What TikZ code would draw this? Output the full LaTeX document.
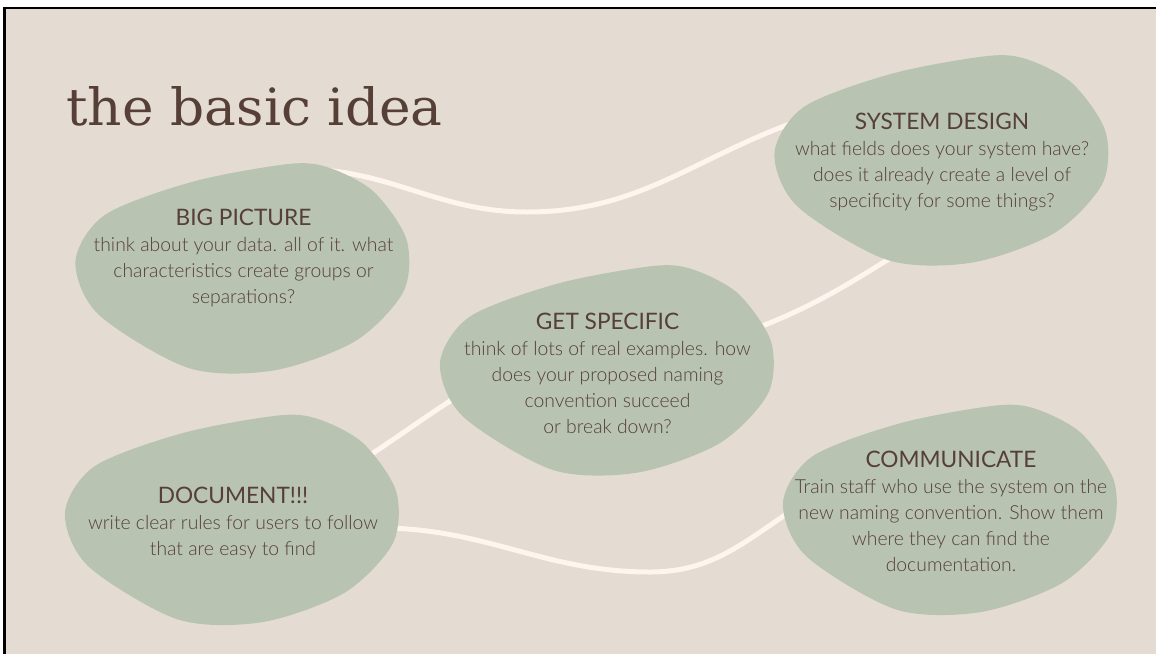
\documentclass[tikz,border=0pt]{standalone}
\usepackage{fontspec}
\setmainfont{Lato}
\newfontfamily\bodyfont{Lato Light}
\newfontfamily\titlefont[FakeStretch=1.04]{DejaVu Serif}
\definecolor{paper}{HTML}{E4DCD2}
\definecolor{sage}{HTML}{B8C3B1}
\definecolor{bark}{HTML}{553F37}
\definecolor{cream}{HTML}{FDF5EE}
\newcommand{\blobhead}[1]{{\rmfamily\fontsize{17}{19.5}\selectfont #1}}

\begin{document}
\begin{tikzpicture}[x=0.75pt,y=-0.75pt,
  blob/.style={fill=sage},
  link/.style={draw=cream,line width=3.75pt},
  note/.style={text=bark,align=center,inner sep=0pt,anchor=north,font=\bodyfont\fontsize{14.5}{19.5}\selectfont}]
\useasboundingbox (0,0) rectangle (1156,654);

% slide
\fill[white] (0,0) rectangle (1156,654);
\fill[paper] (4.5,8) rectangle (1156,654);
\draw[black,line width=1.9pt] (4.5,654) -- (4.5,8) -- (1156,8);

% link ends
\coordinate (bigpic-r) at (300,169);
\coordinate (dip-1) at (527,212);
\coordinate (sysdes-l) at (795,122);
\coordinate (getspec-r) at (752,330);
\coordinate (sysdes-b) at (900,252);
\coordinate (document-t) at (355,465);
\coordinate (getspec-l) at (475,385);
\coordinate (document-r) at (390,528);
\coordinate (dip-2) at (650,572);
\coordinate (commun-l) at (800,505);

% links
\draw[link] (bigpic-r) to[out=0,in=180] (dip-1) to[out=0,in=200] (sysdes-l);
\draw[link] (getspec-r) to[out=21,in=212] (sysdes-b);
\draw[link] (document-t) to[out=33,in=212] (getspec-l);
\draw[link] (document-r) to[out=-2,in=180] (dip-2) to[out=0,in=213] (commun-l);

% pebbles
\foreach \cx/\cy in {243.5/269.5,942.5/161.5,608/371.5,233/521,951/511}
  \fill[blob,shift={(\cx,\cy)}] plot[smooth cycle] coordinates {(45,-105.5) (-50,-88) (-138,-55) (-168,-8.5) (-145,45) (-55,98.5) (30,101) (112,71.5) (160,22) (163,-30) (130,-78) (85,-102)};

% title
\node[anchor=base west,inner sep=0pt,text=bark,font=\titlefont\fontsize{38.5}{46}\selectfont] (title) at (66,125) {the basic idea};

% texts
\node[note] (bigpic) at (243.5,209) {\blobhead{BIG PICTURE}\\think about your data. all of it. what\\characteristics create groups or\\separations?};
\node[note] (sysdes) at (942,113) {\blobhead{SYSTEM DESIGN}\\what fields does your system have?\\does it already create a level of\\specificity for some things?};
\node[note] (getspec) at (607.5,313) {\blobhead{GET SPECIFIC}\\think of lots of real examples. how\\does your proposed naming\\convention succeed\\or break down?};
\node[note] (document) at (233,487) {\blobhead{DOCUMENT!!!}\\write clear rules for users to follow\\that are easy to find};
\node[note] (commun) at (951,451) {\blobhead{COMMUNICATE}\\Train staff who use the system on the\\new naming convention. Show them\\where they can find the\\documentation.};
\end{tikzpicture}
\end{document}
